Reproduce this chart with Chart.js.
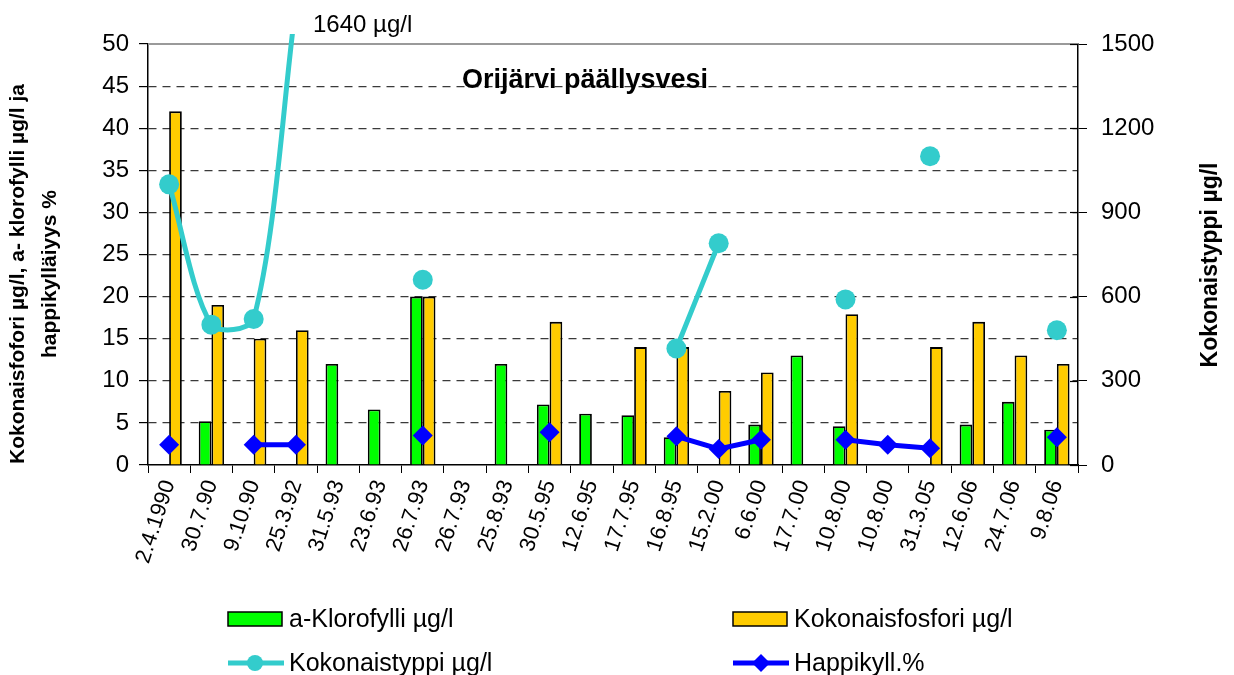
<!DOCTYPE html>
<html>
<head>
<meta charset="utf-8">
<script src="https://cdn.jsdelivr.net/npm/chart.js@4"></script>
<style>
  html, body { margin: 0; padding: 0; background: #fff; }
  #wrap { width: 1234px; height: 675px; }
</style>
</head>
<body>
<div id="wrap"><canvas id="chart" width="1234" height="675"></canvas></div>
<script>
// sampling dates
const dates = ["2.4.1990", "30.7.90", "9.10.90", "25.3.92", "31.5.93", "23.6.93", "26.7.93", "26.7.93",
    "25.8.93", "30.5.95", "12.6.95", "17.7.95", "16.8.95", "15.2.00", "6.6.00", "17.7.00",
    "10.8.00", "10.8.00", "31.3.05", "12.6.06", "24.7.06", "9.8.06"];

// left axis series
const klorofylli = [null, 5.2, null, null, 12, 6.6, 20, null, 12, 7.2, 6.1, 5.9, 3.3, null, 4.8, 13, 4.6, null, null, 4.8, 7.5, 4.2];
const fosfori = [42, 19, 15, 16, null, null, 20, null, null, 17, null, 14, 14, 8.8, 11, null, 17.9, null, 14, 17, 13, 12];
const happi = [2.4, null, 2.4, 2.4, null, null, 3.5, null, null, 3.9, null, null, 3.4, 1.9, 3.0, null, 3.0, 2.4, 2.0, null, null, 3.3];

// right axis series
const typpi = [1000, 500, 520, 1640, null, null, 660, null, null, null, null, null, 415, 790, null, null, 590, null, 1100, null, null, 480];

const leftTicks = { min: 0, max: 50, step: 5 };
const rightTicks = { min: 0, max: 1500, step: 300 };

const FONT = '"Liberation Sans", Arial, sans-serif';

// titles, annotation and legend drawn on the canvas
const extras = {
    id: "extras",
    beforeDatasetsDraw(chart) {
        const { ctx, chartArea } = chart;
        ctx.save();
        ctx.strokeStyle = "#9a9a9a";
        ctx.lineWidth = 2;
        ctx.beginPath();
        ctx.moveTo(chartArea.left, chartArea.top);
        ctx.lineTo(chartArea.right, chartArea.top);
        ctx.stroke();
        // right axis ticks cross the axis
        const y1 = chart.scales.y1;
        ctx.strokeStyle = "#000";
        ctx.lineWidth = 1.2;
        y1.ticks.forEach((t) => {
            const py = Math.round(y1.getPixelForValue(t.value)) + 0.5;
            ctx.beginPath();
            ctx.moveTo(chartArea.right - 8, py);
            ctx.lineTo(chartArea.right, py);
            ctx.stroke();
        });
        ctx.restore();
    },
    afterDraw(chart) {
        const ctx = chart.ctx;
        ctx.save();
        ctx.fillStyle = "#000";
        ctx.textBaseline = "middle";

        // chart title inside plot
        ctx.font = "bold 27px " + FONT;
        ctx.textAlign = "center";
        ctx.fillText("Orijärvi päällysvesi", 585, 81);

        // off-scale value note
        ctx.font = "24px " + FONT;
        ctx.textAlign = "left";
        ctx.fillText("1640 µg/l", 313, 25);

        // left axis title, two lines
        ctx.font = "bold 21px " + FONT;
        ctx.textAlign = "center";
        ctx.save();
        ctx.translate(18, 274);
        ctx.rotate(-Math.PI / 2);
        ctx.fillText("Kokonaisfofori µg/l, a- klorofylli µg/l ja", 0, 0);
        ctx.fillText("happikylläiyys %", 0, 32);
        ctx.restore();

        // right axis title
        ctx.font = "bold 23px " + FONT;
        ctx.save();
        ctx.translate(1211, 265);
        ctx.rotate(-Math.PI / 2);
        ctx.fillText("Kokonaistyppi µg/l", 0, 0);
        ctx.restore();

        // legend (2 x 2)
        const ds = chart.data.datasets;
        ctx.font = "25px " + FONT;
        ctx.textAlign = "left";
        const cols = [228, 733];
        const rows = [619, 663];
        [[0, 0, 0], [1, 0, 1], [2, 1, 0], [3, 1, 1]].forEach(([i, r, c]) => {
            const d = ds[i];
            const x = cols[c], y = rows[r];
            if (d.type === "line") {
                ctx.strokeStyle = d.borderColor;
                ctx.lineWidth = 5;
                ctx.beginPath();
                ctx.moveTo(x, y);
                ctx.lineTo(x + 56, y);
                ctx.stroke();
                ctx.fillStyle = d.pointBackgroundColor;
                ctx.beginPath();
                if (d.pointStyle === "rectRot") {
                    ctx.moveTo(x + 28, y - 9);
                    ctx.lineTo(x + 37, y);
                    ctx.lineTo(x + 28, y + 9);
                    ctx.lineTo(x + 19, y);
                    ctx.closePath();
                } else {
                    ctx.arc(x + 27, y, 8, 0, Math.PI * 2);
                }
                ctx.fill();
            } else {
                ctx.fillStyle = d.backgroundColor;
                ctx.fillRect(x, y - 7, 54, 14);
                ctx.strokeStyle = "#000";
                ctx.lineWidth = 1.5;
                ctx.strokeRect(x, y - 7, 54, 14);
            }
            ctx.fillStyle = "#000";
            ctx.fillText(d.label, x + 61, y + 1);
        });
        ctx.restore();
    }
};

const hiddenGrid = (ctx) => {
    const v = ctx.tick ? ctx.tick.value : null;
    return (v === leftTicks.min || v === leftTicks.max) ? "rgba(0,0,0,0)" : "#3a3a3a";
};

new Chart(document.getElementById("chart"), {
    type: "bar",
    data: {
        labels: dates,
        datasets: [
            {
                label: "a-Klorofylli µg/l",
                data: klorofylli,
                backgroundColor: "#00ff00",
                borderColor: "#000000",
                borderWidth: 1.8,
                yAxisID: "y",
                order: 3,
            },
            {
                label: "Kokonaisfosfori µg/l",
                data: fosfori,
                backgroundColor: "#ffcc00",
                borderColor: "#000000",
                borderWidth: 1.8,
                yAxisID: "y",
                order: 3,
            },
            {
                type: "line",
                label: "Kokonaistyppi µg/l",
                data: typpi,
                borderColor: "#33cccc",
                borderWidth: 5,
                pointStyle: "circle",
                pointRadius: 10,
                pointBackgroundColor: "#33cccc",
                pointBorderWidth: 0,
                tension: 0.3,
                spanGaps: false,
                yAxisID: "y1",
                clip: { left: 10, right: 10, top: 10, bottom: 10 },
                order: 2,
            },
            {
                type: "line",
                label: "Happikyll.%",
                data: happi,
                borderColor: "#0000ff",
                borderWidth: 5,
                pointStyle: "rectRot",
                pointRadius: 10,
                pointBackgroundColor: "#0000ff",
                pointBorderWidth: 0,
                tension: 0,
                spanGaps: false,
                yAxisID: "y",
                order: 1,
            },
        ],
    },
    options: {
        responsive: false,
        animation: false,
        layout: { padding: { top: 44, left: 0, right: 0, bottom: 0 } },
        datasets: {
            bar: { categoryPercentage: 0.6, barPercentage: 1.0 },
        },
        plugins: {
            legend: { display: false },
            tooltip: { enabled: false },
            title: { display: false },
        },
        scales: {
            x: {
                offset: true,
                grid: {
                    offset: true,
                    drawOnChartArea: false,
                    tickLength: 8,
                    tickColor: "#000",
                },
                border: { color: "#000", width: 1.5 },
                ticks: {
                    autoSkip: false,
                    minRotation: 72,
                    maxRotation: 72,
                    padding: 4,
                    color: "#000",
                    font: { family: FONT, size: 22 },
                },
                afterFit: (s) => { s.height = 210; },
            },
            y: {
                position: "left",
                min: leftTicks.min,
                max: leftTicks.max,
                ticks: {
                    stepSize: leftTicks.step,
                    padding: 10,
                    color: "#000",
                    font: { family: FONT, size: 24 },
                },
                grid: {
                    color: hiddenGrid,
                    lineWidth: 1.2,
                    tickLength: 9,
                    tickColor: "#000",
                },
                border: { color: "#000", width: 1.5, dash: [8, 6] },
                afterFit: (s) => { s.width = 148; },
            },
            y1: {
                position: "right",
                min: rightTicks.min,
                max: rightTicks.max,
                ticks: {
                    stepSize: rightTicks.step,
                    padding: 14,
                    color: "#000",
                    font: { family: FONT, size: 24 },
                    callback: (v) => String(v),
                },
                grid: {
                    drawOnChartArea: false,
                    tickLength: 9,
                    tickColor: "#000",
                },
                border: { color: "#000", width: 1.5 },
                afterFit: (s) => { s.width = 156; },
            },
        },
    },
    plugins: [extras],
});
</script>
</body>
</html>
